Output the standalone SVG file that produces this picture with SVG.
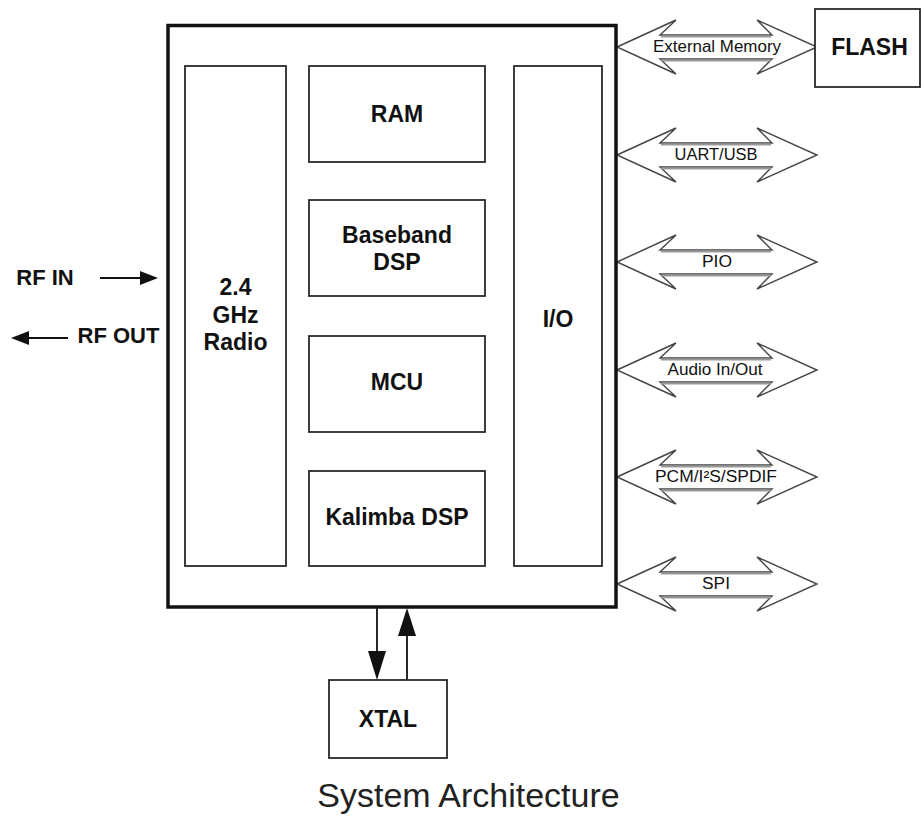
<svg xmlns="http://www.w3.org/2000/svg" xmlns:xlink="http://www.w3.org/1999/xlink" width="921" height="821" viewBox="0 0 921 821">
<style>
.box{fill:#fff;stroke:#2a2a2a;stroke-width:1.8}
.lbl{font-family:"Liberation Sans",Arial,sans-serif;font-weight:bold;font-size:23px;fill:#111;text-anchor:middle}
.sm{font-family:"Liberation Sans",Arial,sans-serif;font-size:16px;fill:#111;text-anchor:middle}
.dbl{fill:#fff;stroke:#444;stroke-width:1.4;stroke-linejoin:miter}
.shaft{stroke:#999;stroke-width:2;fill:none}
.ln{stroke:#111;stroke-width:1.8;fill:none}
.hd{fill:#111}
</style>
<defs>
<g id="dblarrow">
<polygon class="dbl" points="617,0 676,-27 660,-12 772,-12 757,-27 817,0 757,27 772,12 660,12 676,27"/>
<line class="shaft" x1="661" y1="-10.5" x2="771" y2="-10.5"/>
<line class="shaft" x1="661" y1="13.5" x2="771" y2="13.5"/>
</g>
</defs>
<rect width="921" height="821" fill="#fff"/>

<g id="connectors">
<use xlink:href="#dblarrow" y="47"/>
<use xlink:href="#dblarrow" y="155"/>
<use xlink:href="#dblarrow" y="262"/>
<use xlink:href="#dblarrow" y="370"/>
<use xlink:href="#dblarrow" y="477"/>
<use xlink:href="#dblarrow" y="584"/>
<text class="sm" x="717" y="52" textLength="128" lengthAdjust="spacingAndGlyphs">External Memory</text>
<text class="sm" x="716" y="160" textLength="83" lengthAdjust="spacingAndGlyphs">UART/USB</text>
<text class="sm" x="717" y="267" textLength="30" lengthAdjust="spacingAndGlyphs">PIO</text>
<text class="sm" x="715" y="375" textLength="95" lengthAdjust="spacingAndGlyphs">Audio In/Out</text>
<text class="sm" x="716" y="482" textLength="122" lengthAdjust="spacingAndGlyphs">PCM/I²S/SPDIF</text>
<text class="sm" x="716" y="589" textLength="28" lengthAdjust="spacingAndGlyphs">SPI</text>
<!-- RF IN -->
<line class="ln" x1="100" y1="278" x2="142" y2="278"/>
<polygon class="hd" points="158,278 140,271 140,285"/>
<!-- RF OUT -->
<line class="ln" x1="68" y1="338" x2="26" y2="338"/>
<polygon class="hd" points="11,338 29,331 29,345"/>
<!-- XTAL arrows -->
<line class="ln" x1="377" y1="607" x2="377" y2="655"/>
<polygon class="hd" points="377,680 368,651 386,651"/>
<line class="ln" x1="407" y1="680" x2="407" y2="632"/>
<polygon class="hd" points="407,608 398,636 416,636"/>
</g>

<g id="chip">
<rect x="168" y="25.5" width="448" height="581.5" fill="#fff" stroke="#111" stroke-width="3.5"/>
</g>
<g id="radio">
<rect class="box" x="185" y="66" width="101" height="500"/>
<text class="lbl" x="235.5" y="295">2.4</text>
<text class="lbl" x="235.5" y="323">GHz</text>
<text class="lbl" x="235.5" y="350">Radio</text>
</g>
<g id="ram">
<rect class="box" x="309" y="66" width="176" height="96"/>
<text class="lbl" x="397" y="122">RAM</text>
</g>
<g id="baseband">
<rect class="box" x="309" y="200" width="176" height="96"/>
<text class="lbl" x="397" y="243">Baseband</text>
<text class="lbl" x="397" y="270">DSP</text>
</g>
<g id="mcu">
<rect class="box" x="309" y="336" width="176" height="96"/>
<text class="lbl" x="397" y="390">MCU</text>
</g>
<g id="kalimba">
<rect class="box" x="309" y="471" width="176" height="95"/>
<text class="lbl" x="397" y="525">Kalimba DSP</text>
</g>
<g id="io">
<rect class="box" x="514" y="66" width="88" height="500"/>
<text class="lbl" x="558" y="327">I/O</text>
</g>
<g id="flash">
<rect class="box" x="815" y="9" width="105" height="78"/>
<text class="lbl" x="869.5" y="55">FLASH</text>
</g>
<g id="xtal">
<rect class="box" x="329" y="680" width="118" height="78"/>
<text class="lbl" x="388" y="727">XTAL</text>
</g>
<g id="rf">
<text class="lbl" x="45" y="285" style="font-size:22px">RF IN</text>
<text class="lbl" x="118.5" y="343" style="font-size:22px">RF OUT</text>
</g>
<g id="title">
<text x="468.5" y="807" style="font-family:'Liberation Sans',Arial,sans-serif;font-size:34px;fill:#222;text-anchor:middle">System Architecture</text>
</g>
</svg>
